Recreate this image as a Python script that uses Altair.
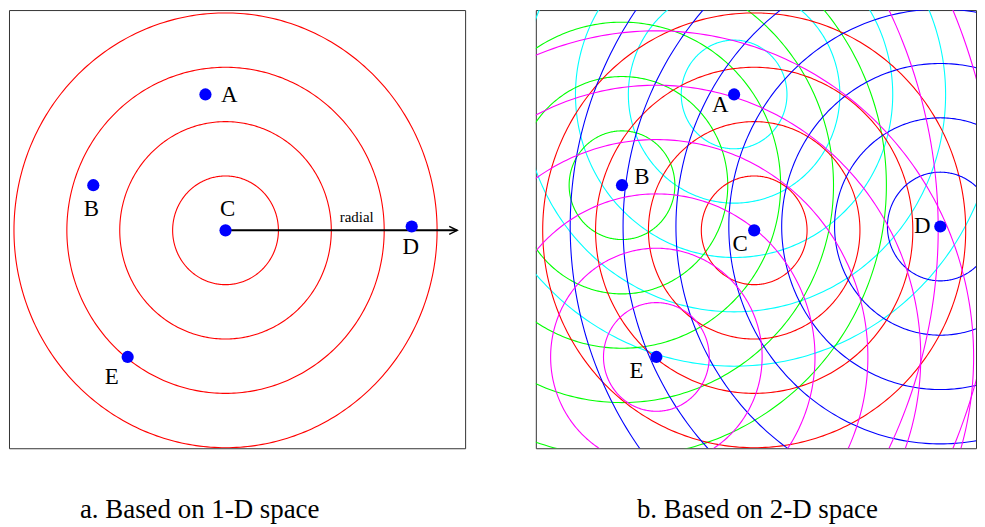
import altair as alt
import numpy as np
import pandas as pd

# ---- data (units: one ring spacing) ----
names = ["A", "B", "C", "D", "E"]
pt_x = [-0.38, -2.50, 0.0, 3.52, -1.85]
pt_y = [2.50, 0.83, 0.0, 0.07, -2.33]

ring_colors = ["#00ffff", "#00ff00", "#ff0000", "#0000ff", "#ff00ff"]
rings_1d = [0, 0, 4, 0, 0]          # rings per point, panel a
rings_2d = [5, 5, 4, 7, 6]          # rings per point, panel b

# two large magenta arcs entering panel b from the right
extra_cx = [-5.72, -5.72]
extra_cy = [0.02, 0.02]
extra_r = [9.2, 10.3]

arrow_x = [0.0, 4.38]
arrow_y = [0.0, 0.0]

captions = ["a. Based on 1-D space", "b. Based on 2-D space"]

# ---- helpers ----
SERIF = "Liberation Serif"
YDOM = [-4.01, 4.053]


def ring_frame(cxs, cys, radii, colors):
    t = np.linspace(0, 2 * np.pi, 361)
    frames = []
    for i, (cx, cy, r, c) in enumerate(zip(cxs, cys, radii, colors)):
        frames.append(pd.DataFrame({
            "x": cx + r * np.cos(t), "y": cy + r * np.sin(t),
            "o": np.arange(len(t)), "ring": i, "color": c}))
    return pd.concat(frames, ignore_index=True)


def rings_for(counts, extra=False):
    cxs, cys, rs, cs = [], [], [], []
    for x, y, n, c in zip(pt_x, pt_y, counts, ring_colors):
        for k in range(1, n + 1):
            cxs.append(x); cys.append(y); rs.append(k); cs.append(c)
    if extra:
        for x, y, r in zip(extra_cx, extra_cy, extra_r):
            cxs.append(x); cys.append(y); rs.append(r); cs.append("#ff00ff")
    return ring_frame(cxs, cys, rs, cs)


points = pd.DataFrame({"name": names, "x": pt_x, "y": pt_y})


def panel(counts, xdom, width, labels_off, caption, cap_dx, extra=False, arrow=False):
    xs = alt.Scale(domain=xdom, nice=False, zero=False)
    ys = alt.Scale(domain=YDOM, nice=False, zero=False)
    X = lambda f="x": alt.X(f"{f}:Q", scale=xs, axis=None)
    Y = lambda f="y": alt.Y(f"{f}:Q", scale=ys, axis=None)

    layers = []
    rdf = rings_for(counts, extra)
    layers.append(alt.Chart(rdf).mark_line(clip=True, strokeWidth=1.1).encode(
        x=X(), y=Y(), order="o:Q", detail="ring:N",
        color=alt.Color("color:N", scale=None)))
    if arrow:
        adf = pd.DataFrame({"x": arrow_x, "y": arrow_y})
        layers.append(alt.Chart(adf).mark_line(color="black", strokeWidth=2, strokeCap="butt").encode(
            x=X(), y=Y()))
        layers.append(alt.Chart(adf.iloc[[1]]).mark_point(
            shape="M -2 -1 L 0 0 L -2 1", filled=False, stroke="black",
            strokeWidth=1.5, size=64, opacity=1).encode(x=X(), y=Y()))
        layers.append(alt.Chart(pd.DataFrame({"t": ["radial"], "x": [2.48], "y": [0.24]})).mark_text(
            font=SERIF, fontSize=15, color="black", baseline="middle").encode(
            x=X(), y=Y(), text="t:N"))
    layers.append(alt.Chart(points).mark_circle(size=150, color="#0000ff", opacity=1).encode(
        x=X(), y=Y()))
    for n, (dx, dy) in zip(names, labels_off):
        layers.append(alt.Chart(points).transform_filter(alt.datum.name == n).mark_text(
            font=SERIF, fontSize=23, color="black", baseline="middle", dx=dx, dy=dy).encode(
            x=X(), y=Y(), text="name:N"))
    return alt.layer(*layers).properties(
        width=width, height=440,
        title=alt.TitleParams(caption, orient="bottom", anchor="middle", dx=cap_dx,
                              offset=70, baseline="alphabetic", font=SERIF,
                              fontSize=27, fontWeight="normal", color="black"))


off_a = [(24, 1), (-2, 24), (2, -21), (-1, 21), (-16, 20)]
off_b = [(-14, 11), (20, -8), (-14, 14), (-18, 0), (-20, 14)]

pa = panel(rings_1d, [-4.094, 4.53], 458, off_a, captions[0], -37.5, arrow=True)
pb = panel(rings_2d, [-4.13, 4.195], 442, off_b, captions[1], 1.5, extra=True)

chart = alt.hconcat(pa, pb, spacing=69).properties(padding=0).configure_view(
    stroke="#333333", strokeWidth=1)

chart.save("out.html", embed_options={"renderer": "svg", "actions": False})
